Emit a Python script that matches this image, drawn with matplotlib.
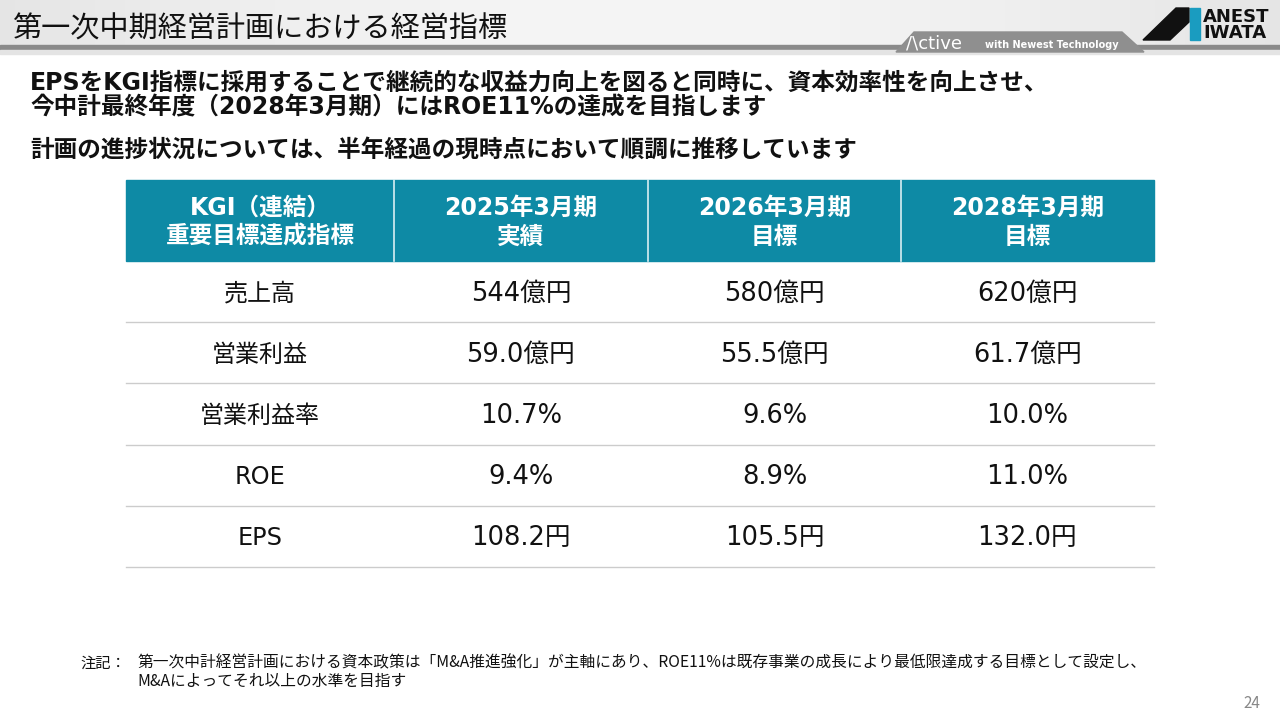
import matplotlib
matplotlib.use("Agg")
import matplotlib.pyplot as plt
import numpy as np
from matplotlib.patches import Rectangle, Polygon

plt.rcParams['font.family'] = ['Noto Sans CJK JP', 'DejaVu Sans']
MIX = ['DejaVu Sans', 'Noto Sans CJK JP']

title = "第一次中期経営計画における経営指標"
lead1 = "EPSをKGI指標に採用することで継続的な収益力向上を図ると同時に、資本効率性を向上させ、"
lead2 = "今中計最終年度（2028年3月期）にはROE11%の達成を目指します"
lead3 = "計画の進捗状況については、半年経過の現時点において順調に推移しています"

header_labels = ["KGI（連結）\n重要目標達成指標", "2025年3月期\n実績", "2026年3月期\n目標", "2028年3月期\n目標"]
indicators = ["売上高", "営業利益", "営業利益率", "ROE", "EPS"]
fy2025_actual = ["544億円", "59.0億円", "10.7%", "9.4%", "108.2円"]
fy2026_target = ["580億円", "55.5億円", "9.6%", "8.9%", "105.5円"]
fy2028_target = ["620億円", "61.7億円", "10.0%", "11.0%", "132.0円"]

note1 = "第一次中計経営計画における資本政策は「M&A推進強化」が主軸にあり、ROE11%は既存事業の成長により最低限達成する目標として設定し、"
note2 = "M&Aによってそれ以上の水準を目指す"
page_no = "24"

TEAL = "#0E8AA5"

fig = plt.figure(figsize=(12.8, 7.2), dpi=100)
ax = fig.add_axes([0, 0, 1, 1])
ax.set_xlim(0, 1280)
ax.set_ylim(720, 0)
ax.axis("off")

# title band gradient
grad = np.linspace(0, 1, 256).reshape(1, -1)
shade = 0.90 + 0.06 * np.sin(grad * np.pi)
ax.imshow(np.dstack([shade, shade, shade]),
          extent=(0, 1280, 46, 0), aspect="auto", zorder=0)
ax.add_patch(Rectangle((0, 45), 1280, 5, color="#8a8a8a", zorder=1))
ax.add_patch(Rectangle((0, 50), 1280, 4, color="#e4e4e4", zorder=1))
ax.text(12, 30, title, fontsize=21, color="#111111", va="center", ha="left", zorder=3)

# Active tab
ax.add_patch(Polygon([[896, 52], [914, 32], [1122, 32], [1144, 52]], closed=True,
                     color="#8f8f8f", zorder=2))
ax.text(906, 43, "/\\ctive", fontsize=13, color="white", va="center", ha="left",
        family="DejaVu Sans", zorder=3)
ax.text(985, 45, "with Newest Technology", fontsize=7, color="white", va="center",
        ha="left", fontweight="bold", family="DejaVu Sans", zorder=3)

# Logo
ax.add_patch(Polygon([[1143, 40], [1176, 8], [1189, 8], [1189, 22], [1170, 40]],
                     closed=True, color="#111111", zorder=3))
ax.add_patch(Rectangle((1190, 8), 10, 32, color="#1a9cc0", zorder=3))
ax.text(1203, 17, "ANEST", fontsize=13, fontweight="heavy", color="#111111",
        va="center", ha="left", family="DejaVu Sans", zorder=3)
ax.text(1203, 33, "IWATA", fontsize=13, fontweight="heavy", color="#111111",
        va="center", ha="left", family="DejaVu Sans", zorder=3)

# lead text
for y, s in [(83, lead1), (107, lead2), (150, lead3)]:
    ax.text(30, y, s, fontsize=17, fontweight="bold", color="#111111",
            va="center", ha="left", family=MIX)

# table
col_edges = [126, 394, 648, 901, 1154]
head_top, head_bot = 180, 261
row_h = 61.2
ax.add_patch(Rectangle((col_edges[0], head_top), col_edges[-1] - col_edges[0],
                       head_bot - head_top, color=TEAL, zorder=2))
for x in col_edges[1:-1]:
    ax.plot([x, x], [head_top, head_bot], color="#d8eef3", lw=1.2, zorder=3)
for i, lab in enumerate(header_labels):
    cx = (col_edges[i] + col_edges[i + 1]) / 2
    ax.text(cx, (head_top + head_bot) / 2 + 2, lab, fontsize=17, fontweight="bold",
            color="white", ha="center", va="center", linespacing=1.25, zorder=4,
            family=MIX)

columns = [indicators, fy2025_actual, fy2026_target, fy2028_target]
for r in range(len(indicators)):
    y0 = head_bot + r * row_h
    y1 = y0 + row_h
    ax.plot([col_edges[0], col_edges[-1]], [y1, y1], color="#cccccc", lw=1, zorder=2)
    for c, col in enumerate(columns):
        cx = (col_edges[c] + col_edges[c + 1]) / 2
        ax.text(cx, (y0 + y1) / 2 + 2, col[r], fontsize=18.5 if c else 17.3,
                color="#111111", ha="center", va="center", zorder=4, family=MIX)

# notes
ax.text(80, 663, "注記：", fontsize=11, color="#111111", va="center", ha="left")
ax.text(137, 663, note1, fontsize=11.3, color="#111111", va="center", ha="left")
ax.text(137, 681, note2, fontsize=11.3, color="#111111", va="center", ha="left")
ax.text(1260, 704, page_no, fontsize=11, color="#888888", va="center", ha="right")

fig.savefig("out.png", dpi=100)
